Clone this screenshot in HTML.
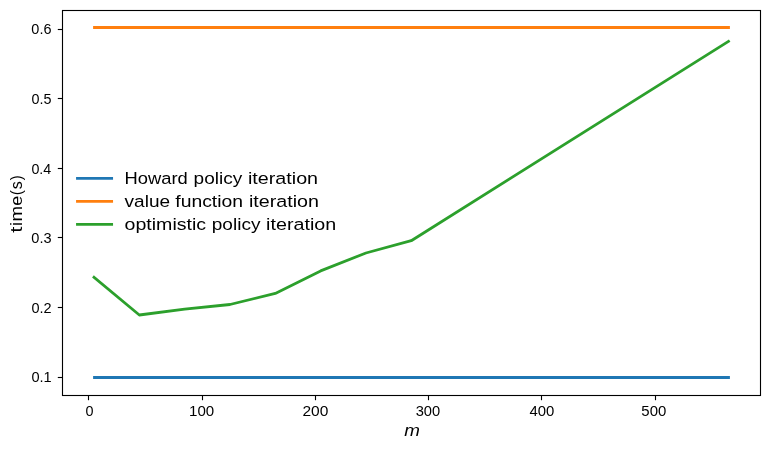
<!DOCTYPE html>
<html><head><meta charset="utf-8"><style>
html,body{margin:0;padding:0;background:#fff;width:769px;height:449px;overflow:hidden}
svg{display:block}
text{font-family:"Liberation Sans", sans-serif}
</style></head><body><div style="will-change:transform;width:769px;height:449px">
<svg width="769" height="449" viewBox="0 0 769 449" font-family='"Liberation Sans", sans-serif' fill="#000">
<line x1="93.10" y1="377.5" x2="729.90" y2="377.5" stroke="#1f77b4" stroke-width="2.78"/>
<line x1="93.10" y1="27.5" x2="729.90" y2="27.5" stroke="#ff7f0e" stroke-width="2.78"/>
<polyline points="94.02,277.30 139.33,315.00 184.66,309.10 229.97,304.50 275.29,293.40 320.62,270.90 365.93,253.00 411.25,240.70 728.50,41.30" fill="none" stroke="#2ca02c" stroke-width="2.78" stroke-linecap="square" stroke-linejoin="round"/>
<rect x="62.5" y="10.5" width="698.0" height="385.0" fill="none" stroke="#000" stroke-width="1.11"/>
<line x1="57.80" y1="29.5" x2="62.5" y2="29.5" stroke="#000" stroke-width="1.11"/>
<line x1="57.80" y1="98.5" x2="62.5" y2="98.5" stroke="#000" stroke-width="1.11"/>
<line x1="57.80" y1="168.5" x2="62.5" y2="168.5" stroke="#000" stroke-width="1.11"/>
<line x1="57.80" y1="237.5" x2="62.5" y2="237.5" stroke="#000" stroke-width="1.11"/>
<line x1="57.80" y1="307.5" x2="62.5" y2="307.5" stroke="#000" stroke-width="1.11"/>
<line x1="57.80" y1="377.5" x2="62.5" y2="377.5" stroke="#000" stroke-width="1.11"/>
<line x1="88.5" y1="395.5" x2="88.5" y2="400.20" stroke="#000" stroke-width="1.11"/>
<line x1="202.5" y1="395.5" x2="202.5" y2="400.20" stroke="#000" stroke-width="1.11"/>
<line x1="315.5" y1="395.5" x2="315.5" y2="400.20" stroke="#000" stroke-width="1.11"/>
<line x1="428.5" y1="395.5" x2="428.5" y2="400.20" stroke="#000" stroke-width="1.11"/>
<line x1="541.5" y1="395.5" x2="541.5" y2="400.20" stroke="#000" stroke-width="1.11"/>
<line x1="655.5" y1="395.5" x2="655.5" y2="400.20" stroke="#000" stroke-width="1.11"/>
<line x1="76.06" y1="178.44" x2="113.05" y2="178.44" stroke="#1f77b4" stroke-width="2.78"/>
<line x1="76.06" y1="201.4" x2="113.05" y2="201.4" stroke="#ff7f0e" stroke-width="2.78"/>
<line x1="76.06" y1="224.4" x2="113.05" y2="224.4" stroke="#2ca02c" stroke-width="2.78"/>
<g><text x="31.362" y="34.000" font-size="14.000" textLength="20.117" lengthAdjust="spacingAndGlyphs">0.6</text>
<text x="31.435" y="104.000" font-size="14.000" textLength="19.973" lengthAdjust="spacingAndGlyphs">0.5</text>
<text x="31.421" y="174.000" font-size="14.000" textLength="19.867" lengthAdjust="spacingAndGlyphs">0.4</text>
<text x="31.340" y="243.000" font-size="14.000" textLength="20.264" lengthAdjust="spacingAndGlyphs">0.3</text>
<text x="31.471" y="313.000" font-size="14.000" textLength="20.161" lengthAdjust="spacingAndGlyphs">0.2</text>
<text x="31.391" y="382.000" font-size="14.000" textLength="20.276" lengthAdjust="spacingAndGlyphs">0.1</text>
<text x="85.570" y="416.000" font-size="14.000" textLength="8.023" lengthAdjust="spacingAndGlyphs">0</text>
<text x="189.088" y="416.000" font-size="14.000" textLength="25.171" lengthAdjust="spacingAndGlyphs">100</text>
<text x="302.437" y="416.000" font-size="14.000" textLength="25.888" lengthAdjust="spacingAndGlyphs">200</text>
<text x="415.677" y="416.000" font-size="14.000" textLength="24.523" lengthAdjust="spacingAndGlyphs">300</text>
<text x="529.455" y="416.000" font-size="14.000" textLength="24.875" lengthAdjust="spacingAndGlyphs">400</text>
<text x="641.372" y="416.000" font-size="14.000" textLength="24.964" lengthAdjust="spacingAndGlyphs">500</text>
<text x="404.355" y="436.000" font-size="17.000" font-style="italic" textLength="15.663" lengthAdjust="spacingAndGlyphs">m</text>
<text y="184.000" font-size="16.670"><tspan x="124.521" textLength="63.215" lengthAdjust="spacingAndGlyphs">Howard</tspan> <tspan x="193.629" textLength="48.631" lengthAdjust="spacingAndGlyphs">policy</tspan> <tspan x="247.963" textLength="70.117" lengthAdjust="spacingAndGlyphs">iteration</tspan></text>
<text y="207.000" font-size="16.670"><tspan x="124.573" textLength="45.505" lengthAdjust="spacingAndGlyphs">value</tspan> <tspan x="175.291" textLength="67.759" lengthAdjust="spacingAndGlyphs">function</tspan> <tspan x="248.997" textLength="70.021" lengthAdjust="spacingAndGlyphs">iteration</tspan></text>
<text y="230.000" font-size="16.670"><tspan x="124.570" textLength="81.582" lengthAdjust="spacingAndGlyphs">optimistic</tspan> <tspan x="211.759" textLength="48.671" lengthAdjust="spacingAndGlyphs">policy</tspan> <tspan x="266.136" textLength="70.095" lengthAdjust="spacingAndGlyphs">iteration</tspan></text>
<text transform="translate(22.089,0) rotate(-90)" y="0" font-size="16.670"><tspan x="-232.696" textLength="6.128" lengthAdjust="spacingAndGlyphs">t</tspan><tspan x="-225.767" textLength="3.568" lengthAdjust="spacingAndGlyphs">i</tspan><tspan x="-221.596" textLength="15.569" lengthAdjust="spacingAndGlyphs">m</tspan><tspan x="-205.792" textLength="10.011" lengthAdjust="spacingAndGlyphs">e</tspan><tspan x="-195.321" textLength="5.139" lengthAdjust="spacingAndGlyphs">(</tspan><tspan x="-189.245" textLength="8.103" lengthAdjust="spacingAndGlyphs">s</tspan><tspan x="-180.220" textLength="4.850" lengthAdjust="spacingAndGlyphs">)</tspan></text></g>
</svg>
</div></body></html>
